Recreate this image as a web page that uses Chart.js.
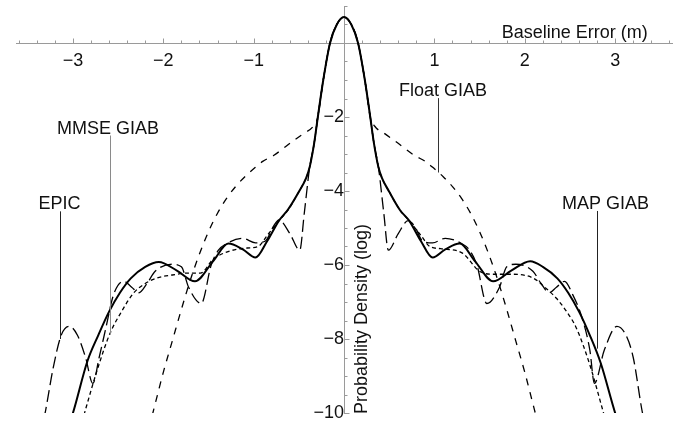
<!DOCTYPE html>
<html>
<head>
<meta charset="utf-8">
<script src="https://cdn.jsdelivr.net/npm/chart.js@4.4.0/dist/chart.umd.min.js"></script>
<style>
  html, body { margin: 0; padding: 0; background: #fff; }
  #wrap { width: 673px; height: 422px; }
</style>
</head>
<body>
<div id="wrap"><canvas id="chart" width="673" height="422"></canvas></div>
<script>
// axis ticks
const xTickValues = [-3, -2, -1, 1, 2, 3];
const yTickValues = [-10, -8, -6, -4, -2];

// MAP GIAB (solid)
const mapX = [-3.1, -3.0, -2.84, -2.72, -2.6, -2.48, -2.36, -2.2, -2.05, -1.85, -1.65, -1.45, -1.28, -1.12, -0.98, -0.85, -0.72, -0.62, -0.5, -0.42, -0.38, -0.33, -0.29, -0.23, -0.155, -0.08, 0,
              0.08, 0.155, 0.23, 0.29, 0.33, 0.38, 0.42, 0.5, 0.62, 0.72, 0.85, 0.98, 1.12, 1.28, 1.45, 1.65, 1.85, 2.06, 2.2, 2.36, 2.48, 2.6, 2.72, 2.84, 3.0, 3.1];
const mapY = [-10.7, -10.0, -8.6, -7.9, -7.26, -6.75, -6.36, -6.05, -5.92, -6.15, -6.44, -5.9, -5.42, -5.58, -5.8, -5.35, -4.8, -4.5, -4.02, -3.65, -3.35, -2.7, -2.0, -1.0, 0, 0.5, 0.7,
              0.5, 0, -1.0, -2.0, -2.7, -3.35, -3.65, -4.02, -4.52, -4.8, -5.35, -5.8, -5.58, -5.42, -5.9, -6.44, -6.15, -5.9, -6.05, -6.36, -6.75, -7.26, -7.9, -8.65, -10.0, -10.7];

// EPIC (long dash)
const epicX = [-3.36, -3.3, -3.22, -3.13, -3.04, -2.95, -2.86, -2.78, -2.71, -2.64, -2.55, -2.44, -2.35, -2.27, -2.18, -2.09, -1.9, -1.8, -1.72, -1.58, -1.47, -1.39, -1.3, -1.12, -0.98, -0.87, -0.78, -0.72, -0.6, -0.49, -0.44, -0.38, -0.33, -0.29, -0.23, -0.155, -0.08, 0,
               0.08, 0.155, 0.23, 0.29, 0.33, 0.38, 0.44, 0.49, 0.6, 0.71, 0.78, 0.87, 0.98, 1.12, 1.3, 1.39, 1.47, 1.58, 1.72, 1.8, 1.9, 2.09, 2.18, 2.27, 2.35, 2.44, 2.53, 2.63, 2.72, 2.77, 2.88, 3.02, 3.12, 3.2, 3.3, 3.36];
const epicY = [-10.6, -9.9, -8.8, -7.9, -7.66, -7.9, -8.5, -9.2, -8.5, -7.75, -6.8, -6.44, -6.6, -6.75, -6.5, -6.17, -5.98, -6.05, -6.6, -7.04, -6.0, -5.6, -5.42, -5.28, -5.4, -5.35, -4.95, -4.78, -5.15, -5.6, -4.6, -3.35, -2.7, -2.0, -1.0, 0, 0.5, 0.7,
               0.5, 0, -1.0, -2.0, -2.7, -3.35, -4.6, -5.6, -5.15, -4.8, -4.95, -5.35, -5.4, -5.28, -5.42, -5.6, -6.0, -7.04, -6.6, -6.05, -5.98, -6.17, -6.5, -6.75, -6.6, -6.44, -6.8, -7.4, -8.3, -9.2, -8.3, -7.66, -7.9, -8.5, -9.97, -10.6];

// MMSE GIAB (short dash)
const mmseX = [-2.94, -2.86, -2.72, -2.59, -2.46, -2.33, -2.2, -2.07, -1.9, -1.74, -1.59, -1.45, -1.3, -1.07, -0.95, -0.85, -0.72, -0.62, -0.5, -0.42, -0.38, -0.33, -0.29, -0.23, -0.155, -0.08, 0,
               0.08, 0.155, 0.23, 0.29, 0.33, 0.38, 0.42, 0.5, 0.62, 0.72, 0.85, 0.95, 1.07, 1.31, 1.5, 1.65, 1.83, 2.09, 2.22, 2.35, 2.46, 2.57, 2.72, 2.86, 2.94];
const mmseY = [-10.6, -9.9, -8.75, -7.85, -7.25, -6.76, -6.5, -6.35, -6.27, -6.22, -6.22, -5.85, -5.65, -5.54, -5.5, -5.2, -4.8, -4.52, -4.02, -3.65, -3.35, -2.7, -2.0, -1.0, 0, 0.5, 0.7,
               0.5, 0, -1.0, -2.0, -2.7, -3.35, -3.65, -4.02, -4.52, -4.8, -5.2, -5.5, -5.56, -5.68, -6.17, -6.25, -6.25, -6.35, -6.6, -6.9, -7.25, -7.7, -8.7, -9.9, -10.6];

// Float GIAB (medium dash)
const floatX = [-2.2, -2.1, -2.0, -1.9, -1.8, -1.7, -1.6, -1.5, -1.4, -1.3, -1.2, -1.1, -1.0, -0.9, -0.78, -0.56, -0.45, -0.34, -0.29, -0.23, -0.155, -0.08, 0,
                0.08, 0.155, 0.23, 0.29, 0.34, 0.45, 0.56, 0.78, 0.9, 1.0, 1.1, 1.2, 1.3, 1.4, 1.5, 1.6, 1.7, 1.8, 1.9, 2.0, 2.1, 2.2];
const floatY = [-10.8, -9.85, -8.9, -8.05, -7.2, -6.4, -5.7, -5.1, -4.6, -4.2, -3.88, -3.62, -3.4, -3.2, -3.04, -2.64, -2.45, -2.25, -2.0, -1.0, 0, 0.5, 0.7,
                0.5, 0, -1.0, -2.0, -2.25, -2.45, -2.64, -3.04, -3.2, -3.4, -3.62, -3.88, -4.2, -4.6, -5.1, -5.7, -6.4, -7.2, -8.05, -8.9, -9.85, -10.8];

const fontFamily = '"Liberation Sans", Arial, sans-serif';
const textColor = '#111';
const axisColor = '#9a9a9a';

const callouts = [
    { text: 'EPIC', x: -3.14, yTop: -4.55, yEnd: -8.0, dx: -1, color: '#222' },
    { text: 'MMSE GIAB', x: -2.59, yTop: -2.5, yEnd: -7.88, dx: -2.5, color: '#8a8a8a' },
    { text: 'Float GIAB', x: 1.04, yTop: -1.49, yEnd: -3.5, dx: 4.5, color: '#333' },
    { text: 'MAP GIAB', x: 2.8, yTop: -4.54, yEnd: -8.26, dx: 8, color: '#222' }
];

function toPoints(xs, ys) {
    return xs.map((x, i) => ({ x: x, y: ys[i] }));
}

function lineSet(label, xs, ys, width, dash) {
    return {
        label: label,
        data: toPoints(xs, ys),
        borderColor: '#000',
        borderWidth: width,
        borderDash: dash,
        pointRadius: 0,
        fill: false,
        cubicInterpolationMode: 'monotone'
    };
}

const axisDecor = {
    id: 'axisDecor',
    beforeDatasetsDraw(chart) {
        const { ctx, scales: { x, y }, chartArea } = chart;
        const x0 = Math.round(x.getPixelForValue(0)) + 0.5;
        const y0 = Math.round(y.getPixelForValue(0)) + 0.5;
        ctx.save();
        ctx.strokeStyle = axisColor;
        ctx.lineWidth = 1;
        ctx.beginPath();
        // small ticks on the inside of the axes
        for (let i = -18; i <= 18; i++) {
            const px = Math.round(x.getPixelForValue(i * 0.2)) + 0.5;
            const len = i % 5 === 0 ? 5 : 3;
            ctx.moveTo(px, y0);
            ctx.lineTo(px, y0 - len);
        }
        for (let i = -20; i <= 2; i++) {
            const py = Math.round(y.getPixelForValue(i * 0.5)) + 0.5;
            const len = i % 4 === 0 ? 5 : 3;
            ctx.moveTo(x0, py);
            ctx.lineTo(x0 + len, py);
        }
        ctx.stroke();

        // axis titles
        ctx.fillStyle = textColor;
        ctx.font = '18px ' + fontFamily;
        ctx.textAlign = 'right';
        ctx.textBaseline = 'alphabetic';
        ctx.fillText('Baseline Error (m)', x.getPixelForValue(3.36), y0 - 6);

        ctx.translate(x0 + 22, chartArea.bottom + 1);
        ctx.rotate(-Math.PI / 2);
        ctx.textAlign = 'left';
        ctx.fillText('Probability Density (log)', 0, 0);
        ctx.restore();
    },
    afterDatasetsDraw(chart) {
        const { ctx, scales: { x, y } } = chart;
        ctx.save();
        ctx.lineWidth = 1;
        ctx.font = '18px ' + fontFamily;
        ctx.fillStyle = textColor;
        ctx.textAlign = 'center';
        ctx.textBaseline = 'alphabetic';
        callouts.forEach(c => {
            const px = Math.round(x.getPixelForValue(c.x)) + 0.5;
            const top = y.getPixelForValue(c.yTop);
            const end = y.getPixelForValue(c.yEnd);
            ctx.strokeStyle = c.color;
            ctx.beginPath();
            ctx.moveTo(px, top);
            ctx.lineTo(px, end);
            ctx.stroke();
            ctx.fillText(c.text, px + c.dx, top - 2);
        });
        ctx.restore();
    }
};

const minusLabel = v => (v < 0 ? '\u2212' + Math.abs(v) : String(v));

new Chart(document.getElementById('chart').getContext('2d'), {
    type: 'line',
    data: {
        datasets: [
            lineSet('Float GIAB', floatX, floatY, 1.3, [7, 7]),
            lineSet('EPIC', epicX, epicY, 1.3, [12, 5]),
            lineSet('MMSE GIAB', mmseX, mmseY, 1.3, [4, 3]),
            lineSet('MAP GIAB', mapX, mapY, 2, [])
        ]
    },
    options: {
        responsive: false,
        animation: false,
        layout: { padding: { left: 16, right: 0, top: 6, bottom: 9 } },
        plugins: {
            legend: { display: false },
            tooltip: { enabled: false }
        },
        scales: {
            x: {
                type: 'linear',
                min: -3.63,
                max: 3.64,
                position: { y: 0 },
                afterBuildTicks: scale => { scale.ticks = xTickValues.map(v => ({ value: v })); },
                grid: { drawOnChartArea: false, drawTicks: false },
                border: { color: axisColor, width: 1 },
                ticks: {
                    color: textColor,
                    font: { size: 18, family: fontFamily },
                    padding: 7,
                    maxRotation: 0,
                    autoSkip: false,
                    callback: minusLabel
                }
            },
            y: {
                type: 'linear',
                min: -10,
                max: 1,
                position: { x: 0 },
                afterBuildTicks: scale => { scale.ticks = yTickValues.map(v => ({ value: v })); },
                grid: { drawOnChartArea: false, drawTicks: true, tickLength: 4, tickColor: 'rgba(0,0,0,0)' },
                border: { color: axisColor, width: 1 },
                ticks: {
                    color: textColor,
                    font: { size: 18, family: fontFamily, lineHeight: 0.5 },
                    padding: 0,
                    autoSkip: false,
                    callback: minusLabel
                }
            }
        }
    },
    plugins: [axisDecor]
});
</script>
</body>
</html>
